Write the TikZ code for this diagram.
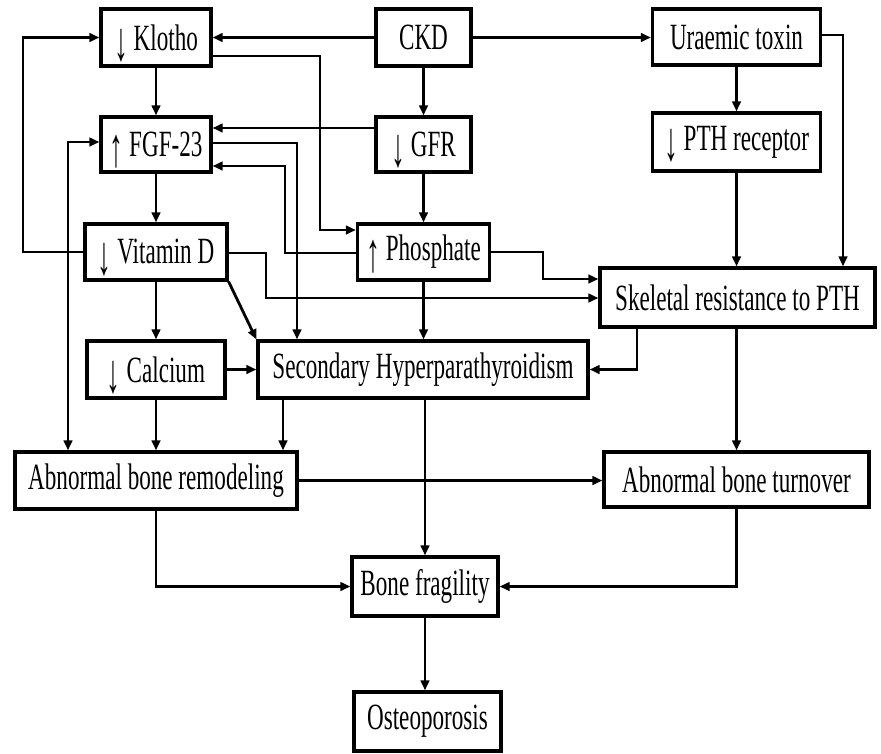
\documentclass[tikz,border=0pt]{standalone}
\usepackage{fontspec}
\usepackage{graphicx}
\setmainfont{Liberation Serif}[FakeStretch=0.625]
\usetikzlibrary{arrows.meta}
% tall, narrow arrows used in front of the labels (smashed so the labels stay centred)
\newcommand{\dnarr}{\smash{\raisebox{-0.28em}{\scalebox{1.2}[1.5]{↓}}}}
\newcommand{\uparr}{\smash{\raisebox{-0.28em}{\scalebox{1.2}[1.5]{↑}}}}
\begin{document}
\begin{tikzpicture}[x=1pt,y=-1pt,
  box/.style={draw,line width=3.2pt,inner sep=0pt,
    font=\fontsize{37}{37}\selectfont},
  arr/.style={line width=2.8pt,-{Triangle[length=10pt,width=8.5pt]}},
  darr/.style={line width=2.8pt,{Triangle[length=10pt,width=8.5pt]}-{Triangle[length=10pt,width=8.5pt]}}]
\useasboundingbox (0,0) rectangle (881,753);

% boxes
\node[box,minimum width=110pt,minimum height=57pt] (klotho) at (156,37.5) {\dnarr\ Klotho};
\node[box,minimum width=95pt,minimum height=57pt] (ckd) at (423.5,37.5) {CKD};
\node[box,minimum width=168pt,minimum height=56pt] (uraemic) at (736.5,37) {Uraemic toxin};
\node[box,minimum width=110pt,minimum height=55pt] (fgf) at (156,144.5) {\uparr\ FGF-23};
\node[box,minimum width=95pt,minimum height=55pt] (gfr) at (423.5,144.5) {\dnarr\ GFR};
\node[box,minimum width=168pt,minimum height=58pt] (pthr) at (736.5,142) {\dnarr\ PTH receptor};
\node[box,minimum width=142pt,minimum height=56pt] (vitd) at (156,252) {\dnarr\ Vitamin D};
\node[box,minimum width=132pt,minimum height=56pt] (phos) at (423.5,252) {\uparr\ Phosphate};
\node[box,minimum width=275pt,minimum height=59pt] (skel) at (737.5,297.5) {Skeletal resistance to PTH};
\node[box,minimum width=138pt,minimum height=57pt] (calc) at (156,369.5) {\dnarr\ Calcium};
\node[box,minimum width=330pt,minimum height=57pt] (shpt) at (423,369.5) {Secondary Hyperparathyroidism};
\node[box,minimum width=282pt,minimum height=57pt] (abr) at (156,480.5) {Abnormal bone remodeling};
\node[box,minimum width=265pt,minimum height=55pt] (abt) at (736.5,479.5) {Abnormal bone turnover};
\node[box,minimum width=146pt,minimum height=59pt] (bf) at (425,586.5) {Bone fragility};
\node[box,minimum width=147pt,minimum height=59pt] (osteo) at (427.5,721.5) {Osteoporosis};

% connectors
\draw[arr] (ckd.west) -- (klotho.east);
\draw[arr] (ckd.east) -- (ckd.east -| uraemic.west);
\draw[arr] (ckd.south) -- (gfr.north);
\draw[arr] (klotho.south) -- (fgf.north);
\draw[arr] (gfr.west |- 0,128) -- (fgf.east |- 0,128);
\draw[arr] (klotho.east |- 0,56) -| (320,230) -- (phos.west |- 0,230);
\draw[arr] (fgf.east |- 0,143) -| (shpt.north -| 297,0);
\draw[arr] (phos.west |- 0,253) -| (285,166) -- (fgf.east |- 0,166);
\draw[arr] (gfr.south) -- (phos.north);
\draw[arr] (fgf.south) -- (vitd.north);
\draw[arr] (vitd.west) -| (23,37.5) -- (klotho.west);
\draw[darr] (fgf.west |- 0,142) -| (abr.north -| 68,0);
\draw[arr] (vitd.south) -- (calc.north);
\draw[arr] (vitd.south east) -- (shpt.north west);
\draw[arr] (vitd.east |- 0,253) -| (266,298) -- (skel.west |- 0,298);
\draw[arr] (phos.east) -| (543,279) -- (skel.west |- 0,279);
\draw[arr] (phos.south) -- (phos.south |- shpt.north);
\draw[arr] (uraemic.south) -- (pthr.north);
\draw[arr] (uraemic.east |- 0,35) -| (skel.north -| 843,0);
\draw[arr] (pthr.south) -- (pthr.south |- skel.north);
\draw[arr] (skel.south -| 637,0) |- (shpt.east);
\draw[arr] (skel.south -| abt.north) -- (abt.north);
\draw[arr] (calc.east) -- (shpt.west);
\draw[arr] (calc.south) -- (abr.north);
\draw[arr] (shpt.south -| 283,0) -- (abr.north -| 283,0);
\draw[arr] (shpt.south -| bf.north) -- (bf.north);
\draw[arr] (abr.east) -- (abr.east -| abt.west);
\draw[arr] (abr.south) |- (bf.west);
\draw[arr] (abt.south) |- (bf.east);
\draw[arr] (bf.south) -- (bf.south |- osteo.north);
\end{tikzpicture}
\end{document}
